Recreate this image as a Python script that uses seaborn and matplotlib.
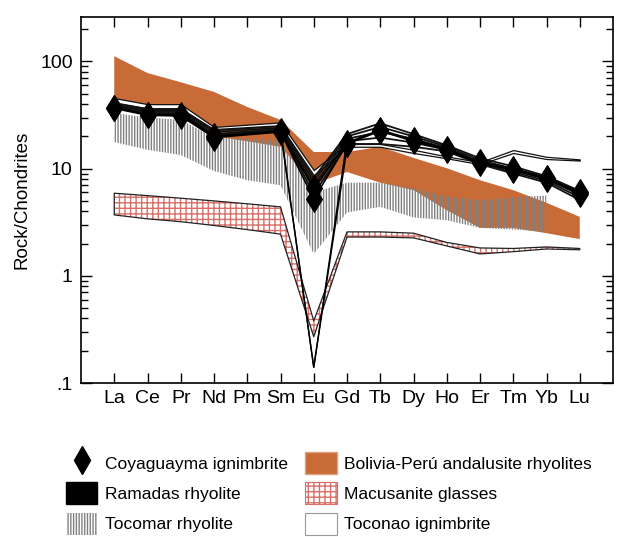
import numpy as np
import pandas as pd
import matplotlib
matplotlib.use("Agg")
import matplotlib.pyplot as plt
import seaborn as sns
from matplotlib.patches import Patch
from matplotlib.lines import Line2D
from matplotlib.ticker import LogLocator, NullFormatter

nan = np.nan
elements = ['La', 'Ce', 'Pr', 'Nd', 'Pm', 'Sm', 'Eu', 'Gd', 'Tb', 'Dy', 'Ho', 'Er', 'Tm', 'Yb', 'Lu']

# Bolivia-Perú andalusite rhyolites (field)
bolivia_upper = [112, 78, 64, 52, 37.6, 28.5, 14.3, 14.3, 16, 12.6, 10.1, 7.8, 6.3, 4.8, 3.55]
bolivia_lower = [38, 33, 30, 20, 18, 16, 7.2, 9.3, 7.4, 6.3, 4.1, 2.8, 2.8, 2.5, 2.2]

# Tocomar rhyolite (field)
tocomar_upper = [33, 30, 28.5, 19.5, 19, 18.5, 6.0, 7.4, 7.4, 6.6, 5.5, 5.1, 5.4, 5.6, nan]
tocomar_lower = [17.7, 15, 13.4, 9.5, 7.8, 7.0, 1.6, 3.9, 4.4, 3.5, 3.3, 2.8, 2.7, 2.57, nan]

# Macusanite glasses (field)
macus_upper = [5.9, 5.6, 5.3, 5.0, 4.7, 4.4, 0.38, 2.57, 2.57, 2.5, 2.05, 1.82, 1.8, 1.86, 1.8]
macus_lower = [3.7, 3.4, 3.2, 2.95, 2.7, 2.45, 0.27, 2.3, 2.3, 2.26, 1.9, 1.6, 1.68, 1.78, 1.75]

# Toconao ignimbrite (field)
toconao_upper = [45.6, 40, 40, 24.5, nan, 27, 9.7, 17, 17, 15, 13, 11.5, 14.9, 12.9, 12.2]
toconao_lower = [41, 36.5, 36.5, 23, nan, 25, 8.7, 16, 16, 14, 12.5, 11, 14.0, 12.3, 11.9]
toconao_deep_a = [nan, nan, nan, nan, nan, 22.5, 0.14, 18.5, nan, nan, nan, nan, nan, nan, nan]
toconao_deep_b = [nan, nan, nan, nan, nan, 23.5, 0.14, 15.5, nan, nan, nan, nan, nan, nan, nan]

# Ramadas rhyolite (samples)
ramadas_1 = [41, 36, 36, 23, nan, 25, 8.2, 21, 26.5, 21, 16.5, 12.5, 10.5, 8.5, 6.2]
ramadas_2 = [40, 35, 35, 22, nan, 24, 7.6, 20, 24.5, 20, 16, 12, 10, 8.3, 6.0]
ramadas_3 = [39, 34, 34, 21, nan, 23.5, 7.0, 19, 22, 19, 15.5, 11.5, 9.6, 8.0, 5.7]
ramadas_4 = [38, 33, 33, 20.5, nan, 23, 6.4, 18, 19.5, 17.5, 15, 11.2, 9.3, 7.7, 5.4]
ramadas_5 = [37, 32.5, 32, 20, nan, 22.5, 5.8, 17, 17, 16, 14.5, 11, 9.0, 7.4, 5.1]

# Coyaguayma ignimbrite (samples)
coya_1 = [37, 32, 32, 20, nan, 22.5, 6.6, 17.5, 23, 18.5, 15.3, 11.5, 10, 8.2, 6.0]
coya_2 = [36.5, 31.5, 31, 19.5, nan, 22, 5.2, 17, 22.5, 18, 15, 11.2, 9.8, 8.0, 5.8]

x = np.arange(len(elements))


def long_df(samples):
    rows = []
    for sid, vals in samples.items():
        for i, v in enumerate(vals):
            if not np.isnan(v):
                rows.append({"sample": sid, "x": i, "value": v})
    return pd.DataFrame(rows)


def field(ax, up, lo, **kw):
    up = np.asarray(up, float)
    lo = np.asarray(lo, float)
    m = ~np.isnan(up) & ~np.isnan(lo)
    ax.fill_between(x[m], lo[m], up[m], **kw)


sns.set_theme(style="ticks")
plt.rcParams['font.family'] = ['Liberation Sans', 'DejaVu Sans']
plt.rcParams['hatch.linewidth'] = 1.0
for k in ['text.color', 'axes.labelcolor', 'xtick.color', 'ytick.color']:
    plt.rcParams[k] = 'black'

fig = plt.figure(figsize=(6.19, 5.37), dpi=100)
ax = fig.add_axes([81 / 619, 154 / 537, 532 / 619, 366 / 537])
ax.set_yscale('log')

orange = '#C86B36'
tgray = '#808080'
red = '#d8706a'
field(ax, bolivia_upper, bolivia_lower, facecolor=orange, edgecolor='none', lw=0, zorder=1)
field(ax, tocomar_upper, tocomar_lower, facecolor='none', edgecolor=tgray,
      hatch='||||||', lw=0, zorder=2)
field(ax, macus_upper, macus_lower, facecolor='white', edgecolor=red,
      hatch='+++', lw=0, zorder=3)
field(ax, macus_upper, macus_lower, facecolor='none', edgecolor='#222222', lw=0.9, zorder=3.5)
field(ax, toconao_upper, toconao_lower, facecolor='white', edgecolor='#111111', lw=0.9, zorder=4)

deep = long_df({"a": toconao_deep_a, "b": toconao_deep_b})
sns.lineplot(data=deep, x="x", y="value", units="sample", estimator=None, sort=False,
             color='black', lw=1.0, ax=ax, legend=False, zorder=5)

ram = long_df({"r1": ramadas_1, "r2": ramadas_2, "r3": ramadas_3, "r4": ramadas_4, "r5": ramadas_5})
sns.lineplot(data=ram, x="x", y="value", units="sample", estimator=None, sort=False,
             color='#111111', lw=1.3, ax=ax, legend=False, zorder=5)

coya = long_df({"c1": coya_1, "c2": coya_2})
sns.lineplot(data=coya, x="x", y="value", units="sample", estimator=None, sort=False,
             color='black', lw=1.2, marker='d', markersize=13, markeredgecolor='black',
             markerfacecolor='black', ax=ax, legend=False, zorder=6)

ax.set_xlim(-1, 15)
ax.set_ylim(0.1, 260)
ax.set_xticks(x)
ax.set_xticklabels(elements, fontsize=14)
ax.set_xlabel('')
ax.set_yticks([0.1, 1, 10, 100])
ax.set_yticklabels(['.1', '1', '10', '100'], fontsize=14)
ax.yaxis.set_minor_locator(LogLocator(base=10, subs=np.arange(2, 10)))
ax.yaxis.set_minor_formatter(NullFormatter())
ax.set_ylabel('Rock/Chondrites', fontsize=13.5, labelpad=7)
ax.tick_params(which='both', direction='in', top=True, right=True, color='black')
ax.tick_params(axis='x', which='major', length=7, width=1, pad=5)
ax.tick_params(axis='y', which='major', length=8, width=1, pad=6)
ax.tick_params(axis='y', which='minor', length=5, width=1)
ax.tick_params(axis='x', which='minor', length=0)
for s in ax.spines.values():
    s.set_color('black')
    s.set_linewidth(1.2)
    s.set_visible(True)

handles = [
    Line2D([], [], marker='d', color='black', ls='none', markersize=14),
    Patch(facecolor='black', edgecolor='black'),
    Patch(facecolor='white', edgecolor=tgray, hatch='||||||', lw=0),
    Patch(facecolor=orange, edgecolor='#e0a080'),
    Patch(facecolor='white', edgecolor=red, hatch='+++', lw=0.8),
    Patch(facecolor='white', edgecolor='#999999', lw=0.8),
]
labels = ['Coyaguayma ignimbrite', 'Ramadas rhyolite', 'Tocomar rhyolite',
          'Bolivia-Perú andalusite rhyolites', 'Macusanite glasses', 'Toconao ignimbrite']
fig.legend(handles, labels, ncol=2, loc='upper left', bbox_to_anchor=(66 / 619, 1 - 452 / 537),
           frameon=False, fontsize=12.5, handlelength=1.8, handleheight=1.55, handletextpad=0.45,
           labelspacing=0.5, columnspacing=1.0, borderpad=0, borderaxespad=0)

fig.savefig('out.png', dpi=100)
